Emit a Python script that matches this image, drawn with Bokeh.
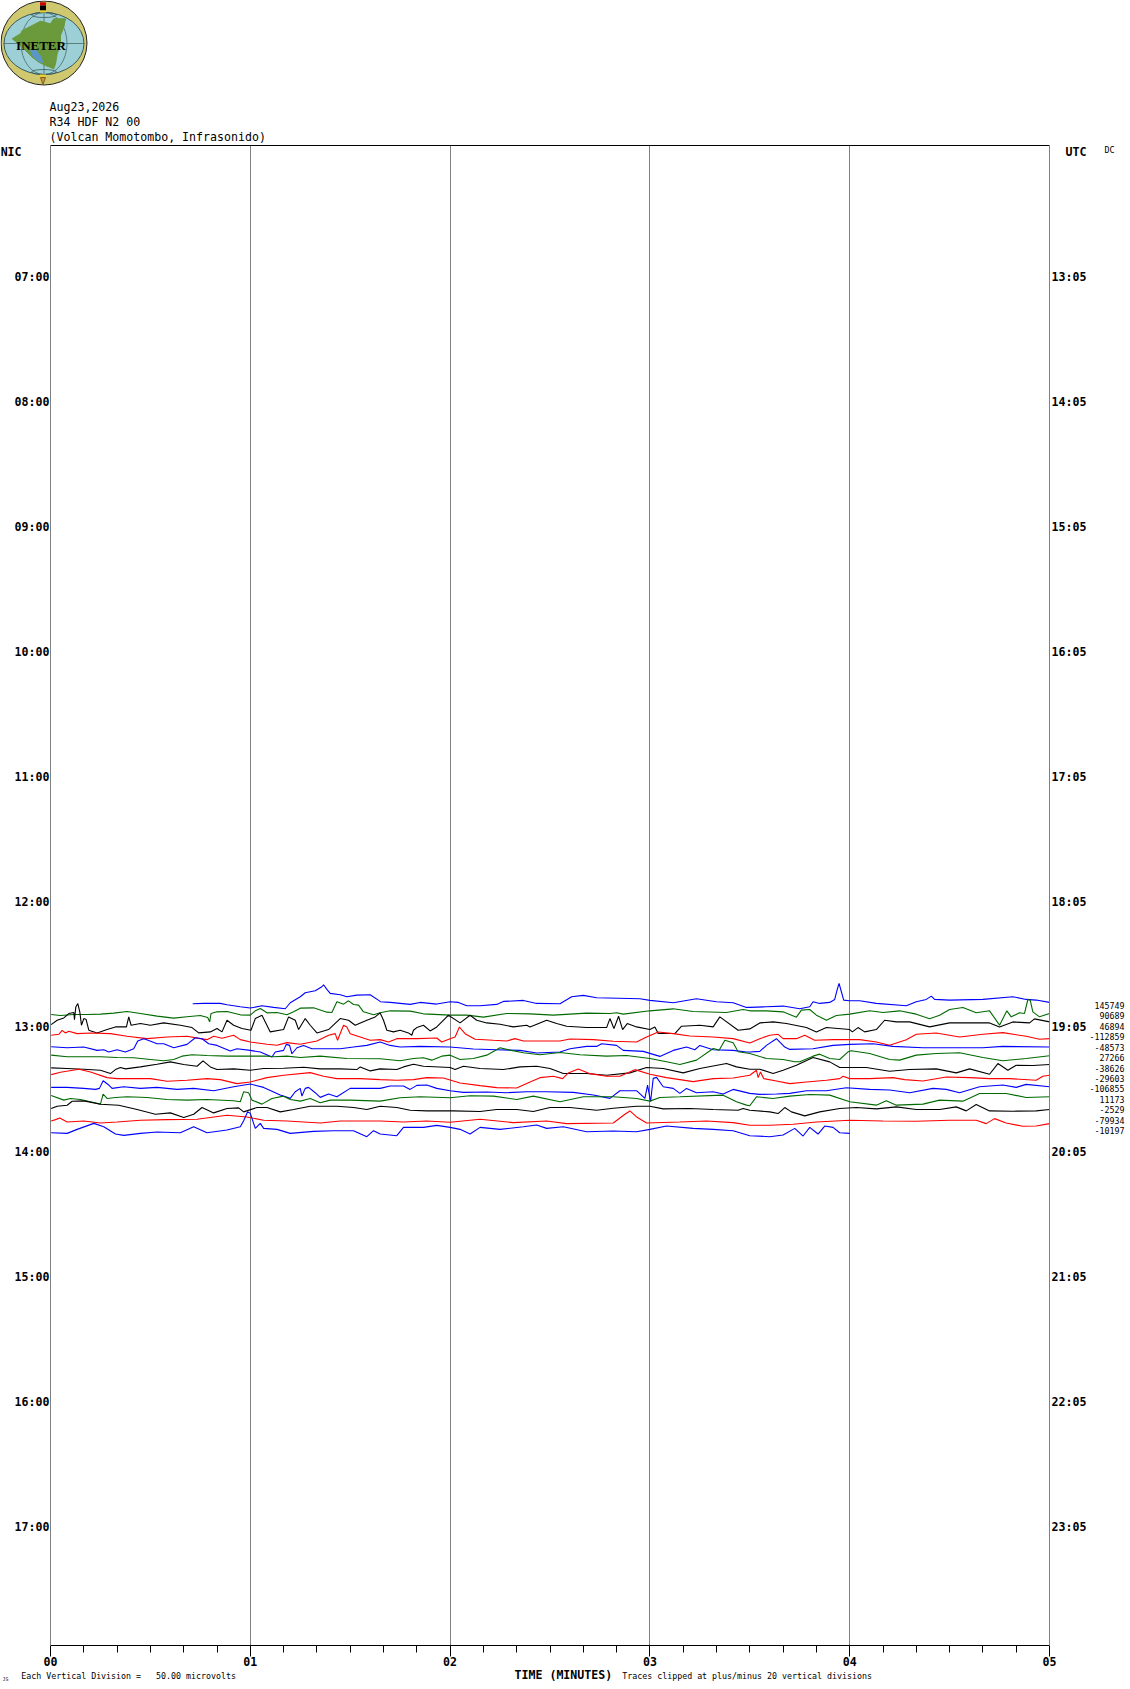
from bokeh.plotting import figure
from bokeh.models import Label, LinearAxis, FixedTicker, Range1d
from bokeh.layouts import column
from bokeh.embed import file_html
from bokeh.resources import INLINE

# Time along the trace in seconds, deflection upward from the trace's baseline (1 count = 1/375 h on the drum)
trace_01_t = [42.7,46,51,53,57,60,63.5,67,70.5,72,75,76.5,79.5,81.5,82,83,84,87,89,92,96,99,
              99,102,105,108,111,116,120,122.5,125,129,134,136,142,146,153,156.5,160,164,177,180,187,194,200,205,209,
              210,215,220,225,228,229,231,234,235.5,236.2,236.8,237.5,238.2,240,243,248,257,260,263,264.5,265.5,270,280,289,293,296,300]
trace_01_d = [7,8,8,4,-2,-6,1,-4,-8,10,28,40,46,58,64,50,38,34,28,33,34,14,
              13,11,8,5,11,6,13,11,1,1,5,14,17,8,7,28,32,25,22,17,10,22,13,10,-4,
              -4,-2,0,-8,-2,13,8,11,20,48,68,43,18,16,16,8,1,13,20,30,20,18,20,28,20,18,11]

trace_02_t = [0.2,3,7,11,15,19,23,27,32,37,41,45,47.2,47.8,48.2,50,53,57,60,61.5,63,65,68,71,73,75,79,83,84.5,86,88,89.5,91,92.5,94,97,99,
              102,108,112,120,125,130,137,144,151,161,168,170,172,180,187,193,203,208,
              210,215,220,224,225.5,228,230,233,236,240,246,250,255,260,264,267,270,274,278,282,285,287.2,288.5,291,292.5,293.5,294.2,295,297,300]
trace_02_d = [6,3,6,6,7,10,15,9,1,-5,-1,3,-3,-16,9,14,15,5,4,17,24,11,12,5,14,25,26,13,12,44,37,47,36,34,14,5,11,
              17,16,8,4,4,-2,9,8,4,10,9,11,7,17,23,15,12,21,
              17,17,14,-2,19,21,4,-11,3,7,17,12,17,7,-7,4,21,27,11,17,-26,17,-1,11,9,51,49,14,-1,9]

trace_03_t = [0.2,2,4,5.5,7,7.2,7.6,8.2,8.8,9.3,10,10.7,11.5,14,17,19.5,22.8,23.5,24.2,27,30,34,39,42.5,44.5,48,50,51.5,53,55,57.5,60.2,61.5,63.5,64.5,66,70,71.5,73.5,74.5,76.5,78,80,83.5,87,89.5,91.5,95,97.5,99,
              100,101,103,105,107.5,108.5,109,110,112,114,116,119.5,123,126,128,131,135,139,143,144,149,152,155,161,167,168,169.2,170.6,171.8,173.2,176,180,181.5,182.5,187.5,189.5,195,199,201,206.5,210,
              213,217,221,227,230,233,240,240.8,242.5,244.5,248,250.5,254,258,264,270,276,282,285,289,294,295.5,300]
trace_03_d = [7,20,27,40,43,22,60,70,45,5,25,22,-10,-18,-8,0,0,30,5,10,5,12,5,-2,-18,-15,-5,-15,20,5,-5,-10,25,35,15,-15,-8,30,20,-8,25,5,-18,-8,25,20,5,20,30,42,
              20,-10,-15,-10,-18,-25,-10,-2,5,-12,0,35,12,35,20,12,8,0,5,0,20,10,2,-2,-2,25,-5,32,-8,10,0,-8,0,-20,-20,2,5,0,30,-10,-6,
              12,15,10,-2,-15,-2,-8,-15,-2,-15,-8,20,15,15,0,12,12,12,0,15,12,24,15]

trace_04_t = [0.2,2.5,3.5,4.5,5.5,8,12,18,23,29,35,41,45,47,49,51.5,55,57,60,65,68,71,75,80,83.5,85.5,86.2,88,89,90,93,96,99,
              101.5,104,110,116,117.5,120,121.5,122.8,124.5,127.5,133,137,139.5,142,147,153,156,163,169,176,179,182.5,187,192,199,205,
              210,213,216,218.5,220,224,226.5,229.5,235,243,248,252,257,260,266,273,280,286,293,297,300]
trace_04_d = [6,9,21,13,18,11,13,11,3,-4,1,3,-4,-7,3,-3,6,-7,-14,-21,-24,-16,-21,-11,6,11,-9,36,31,11,1,-9,-7,
              -14,-4,-4,-2,-14,-4,1,31,11,-6,-9,-11,-4,-11,-11,-11,-5,-7,-12,-14,1,16,11,4,1,-4,
              -17,-4,6,9,-4,-4,6,-9,-7,-7,-14,-24,-7,9,13,1,9,14,3,-6,-4]

trace_05_t = [0.2,5,10,14,16,17.5,20,22.5,25,26.2,28,29.5,32,34,37,41,43.5,45.5,47.5,50,54,56,60,63,66.5,67.5,70,70.8,71.8,72.5,74,76,78.5,83,87,91,95,99,
              102,105,111,120,127,134,141,146,153,156,161,164,165.5,170,172,178,183,187,191,193.5,195,199,205,209,
              210,213,215,218,220.5,222,229,235,240,247,253,262,270,280,286,300]
trace_05_d = [3,0,2,-8,-6,-13,-6,-13,-3,20,27,22,12,12,0,10,30,27,12,7,-10,-3,-8,-13,-28,-13,-8,10,7,-18,0,7,-3,-3,-3,2,7,17,
              7,2,4,2,-4,-6,-8,-16,-13,-3,4,4,12,7,-8,-11,-26,-8,2,-6,7,-6,-8,-13,
              -13,-11,7,27,2,-5,-3,7,10,12,4,0,0,0,4,2]

trace_06_t = [0.2,5,10,15,20,25,30,34,37,39.5,42.5,47,53,60,65,67,71,75,81,89,99,
              105,109,112,114.5,117.5,120,123,127,131,135,138,142,147,153,159,167,173,180,185,189,194,199,200.8,202.5,205,206.5,210,
              215,220,223.5,225,229,231,234,237,239.5,240.5,246,252,255,260,266,273,280,286,293,300]
trace_06_d = [9,4,4,4,2,1,-4,-8,-4,6,10,8,6,6,6,4,6,2,6,-1,-2,
              -8,-1,1,-6,6,9,-4,-1,9,31,24,16,10,17,10,6,8,-1,-11,-19,-6,29,24,54,46,19,14,
              -1,-4,-11,-11,6,12,-1,-4,19,22,14,-4,-6,9,14,16,2,-8,-1,7]

trace_07_t = [0.2,5,10,15,18,19.5,21,22.5,27,32,36,40,44,45.8,48,50,55,60,64,70,76,81,87,92,93,96,99,
              104,106,109,112,120,121.5,124,129,136,141,146,150,154,161,167,174,179,184,190,195,203,206,
              210,213,217,220,224,229,234,237,245,252,258,266,272,276,282,284.5,287.5,290,295,300]
trace_07_d = [2,0,-2,-5,-15,-3,3,-1,5,13,20,12,7,23,5,-3,-1,-5,0,1,4,-1,-1,-3,5,-7,-1,
              -3,5,13,7,3,-3,7,0,-3,5,7,0,-15,-15,-20,-13,3,0,-13,0,15,5,
              -2,-2,-15,-5,10,33,20,3,3,-8,-3,-1,-13,-1,-17,15,-5,10,9,12]

trace_08_t = [0.2,3,8.5,12,17,20,25,30,35,41,47,51,56,60,65,70,78,82,86,93,99,
              104,109,113,118,123,129,134,140,144,147,151,153.8,155.5,158.5,162,167,171,175.5,180,185,193,199,205,
              210,212,212.5,213.2,214.2,218,222,227,233,237,238,240,246,253,256.5,262,269,276,282,288,296,298,300]
trace_08_d = [13,20,29,21,4,1,1,1,-7,-4,1,-2,-14,-9,4,11,19,8,1,1,-2,
              -4,-2,4,3,-12,-20,-26,-27,-9,4,8,1,18,30,16,8,8,28,14,4,-8,1,3,
              11,26,4,21,1,-6,-14,-9,-4,1,8,1,1,4,-2,-6,6,4,1,1,-4,8,11]

trace_09_t = [0.2,5,10,13.5,14.7,15.8,17.5,18.5,22,27,32,38,43,49,55,60,64,69,72,73.5,75,75.5,76.5,77.5,79.5,81,83.5,86,90,94,99,
              102,106,108,110,113,116,120,124,131,137,143,149,157,163,168,171,176,178.5,179.3,180.2,181,182,184,187,189,191,194,199,202,205,
              210,213,218,222,227,233,239,246,252,258,265,269,273,279,286,290,293,300]
trace_09_d = [6,6,3,0,3,26,13,3,8,3,6,0,3,-4,8,16,6,-17,-27,-7,3,-20,3,6,-10,-24,-14,-22,3,3,3,
              10,10,0,12,13,3,-4,-9,-8,-10,-7,-7,-9,-17,-27,-4,-4,-27,13,-37,33,36,8,3,-12,3,-10,-7,-14,0,
              -12,-15,-14,-12,-4,-4,5,0,-2,-10,3,0,-10,8,13,6,15,8]

trace_10_t = [0.2,4,6,9,12,15,15.8,17,19.5,23,29,35,41,47,55,57,58,59.5,60.5,63.5,66.5,70,72,75,78,81,84,90,99,
              105,111,120,126,133,140,145,153,160,169,176,180,183,189,202,206,209,
              210,212,217,222,228,234,240,248,251,254,262,267,274,279,287,293,300]
trace_10_d = [13,-1,4,1,-6,-13,17,4,7,9,7,1,-1,1,-3,-6,24,21,-1,-13,4,11,1,-4,4,-9,-1,-1,-4,
              6,9,6,12,11,1,11,-6,9,9,4,-4,7,9,14,-6,-16,
              -18,9,4,11,16,14,-6,-16,-3,-16,-13,-1,-4,19,19,7,9]

trace_11_t = [0.2,2,5,6.5,10,15,20.5,26,31.5,36,40,43,45.5,49,53,56.5,58,62,65,69,73,78,86,91,95,99,
              104,108,113,121,129,134,140,145,150,156,164,169,176,180,184,192,199,206.5,208,
              210,216,218.5,220.5,222.5,226.5,231,237,242,248,254,260,267,272,275,278,282,289,296,300]
trace_11_d = [5,12,15,27,28,18,15,2,-12,-8,-22,-12,8,-8,5,7,-5,8,8,-5,2,12,12,8,2,12,
              8,0,-2,-2,-4,2,2,-4,8,8,0,6,12,12,4,5,2,0,5,
              0,-5,-10,8,-5,-17,-5,5,8,4,10,2,2,10,-2,17,-2,-3,-2,2]

trace_12_t = [0.2,1.5,2.8,5,10,15,20,27,35,44,53,59,64,71,81,87,99,
              106,113,120,129,139,149,155,169,172.5,174,176,179,189,197,205,
              210,216,223,230,240,250,260,270,278,281,283.5,287,292,296,300]
trace_12_d = [-1,3,8,-4,-1,-7,-4,1,3,4,16,11,1,-1,-7,-1,-1,
              -4,-1,-5,4,-6,-1,-9,-7,19,29,11,-7,-4,-1,-6,
              -14,-14,-11,-4,1,-1,-2,1,1,-9,6,-7,-17,-16,-9]

trace_13_t = [0.2,5,8,13,16,19.5,22,27,32,39,43,47,53,57,58,59.2,60,61.5,63,64,68,72,79,85,91,95,97,99,
              104,106,112,116,120,123,126,129,135,142,146,149,154,161,169,176,180,185,193,199,205,
              210,216,220,223.5,226,228,230.5,232.5,235,237,240]
trace_13_d = [-5,-7,5,23,13,-9,-13,-7,-3,-5,13,-5,3,13,31,58,53,8,23,8,5,-7,-1,1,1,-17,1,-9,
              -14,11,11,17,11,5,-9,11,5,13,18,8,13,-2,0,-2,5,15,8,5,1,
              -14,-17,-12,8,-15,11,-9,15,11,-5,-7]

trace_offsets = [145749,90689,46894,-112859,-48573,27266,-38626,-29603,-106855,11173,-2529,-79934,-10197]
nic_hours = [6,7,8,9,10,11,12,13,14,15,16,17]
nic_labels = ["NIC    ","07:00","08:00","09:00","10:00","11:00","12:00","13:00","14:00","15:00","16:00","17:00"]
utc_labels = ["  UTC","13:05","14:05","15:05","16:05","17:05","18:05","19:05","20:05","21:05","22:05","23:05"]
minute_labels = ["00","01","02","03","04","05"]

traces = [
    (trace_01_t, trace_01_d), (trace_02_t, trace_02_d), (trace_03_t, trace_03_d), (trace_04_t, trace_04_d),
    (trace_05_t, trace_05_d), (trace_06_t, trace_06_d), (trace_07_t, trace_07_d), (trace_08_t, trace_08_d),
    (trace_09_t, trace_09_d), (trace_10_t, trace_10_d), (trace_11_t, trace_11_d), (trace_12_t, trace_12_d),
    (trace_13_t, trace_13_d),
]
for i, (tt, dd) in enumerate(traces):
    assert len(tt) == len(dd), (i + 1, len(tt), len(dd))

BLUE, GREEN, BLACK, RED, GRAY = "#0000ff", "#006a00", "#000000", "#ff0000", "#808080"
row_colors = [BLUE, GREEN, BLACK, RED]
MONO = "DejaVu Sans Mono"
NB = "\u00a0"

HEAD_H, FOOT_H = 144, 21
HEIGHT = 1689
LEFT_EXTRA = 3

def strip(h):
    f = figure(width=1130, height=h, x_range=Range1d(0, 1130), y_range=Range1d(h, 0),
               output_backend="svg", toolbar_location=None, min_border=0, outline_line_color=None,
               frame_align=False)
    f.axis.visible = False
    f.grid.visible = False
    return f

def put(f, px, py, text, size="11.6px", bold=False):
    f.add_layout(Label(x=px, y=py, text=text, text_align="left", text_baseline="middle",
                       text_font=MONO, text_font_style="bold" if bold else "normal",
                       text_font_size=size, text_color="#000000"))

# ---------- header: logo and station text ----------
head = strip(HEAD_H)
head.ellipse([43.5], [42.5], width=[86], height=[84], fill_color="#cfc86e", line_color="#222222", line_width=1)
head.ellipse([43.5], [43], width=[80], height=[62], fill_color="#9ccfd6", line_color="#3a5a5a", line_width=1)
head.ellipse([43.5], [43], width=[46], height=[62], fill_color=None, line_color="#4a6a6a", line_width=0.8)
head.ellipse([43.5], [14.5], width=[25], height=[5], fill_color=None, line_color="#3a5a5a", line_width=0.8)
head.ellipse([43.5], [71.5], width=[25], height=[5], fill_color=None, line_color="#3a5a5a", line_width=0.8)
head.line([3, 84], [43, 43], line_color="#4a6a6a", line_width=0.8)
head.line([43.5, 43.5], [12, 74], line_color="#4a6a6a", line_width=0.8)
head.patch([11.7,20,21.7,31.7,40,50,53.3,65,63.3,60,60,56.7,55,53.3,45,38.3,31.7,25,18.3],
           [38.3,33.3,30,25,20.7,23.3,18.3,18.3,26.7,35,43.3,53.3,63.3,68.3,65,61.7,56.7,50,43.3],
           fill_color="#6a9a3c", line_color="#6a9a3c")
head.patch([30,35,41,42,37,32], [50,49,57,62,60,55], fill_color="#5b96c8", line_color="#5b96c8")
head.quad(left=[39.5], right=[45.5], top=[1.7], bottom=[5], fill_color="#d00000", line_color=None)
head.quad(left=[39.5], right=[45.5], top=[5], bottom=[10], fill_color="#000000", line_color=None)
head.quad(left=[39.5], right=[45.5], top=[10], bottom=[12], fill_color="#e8d030", line_color=None)
head.quad(left=[39.5], right=[45.5], top=[74], bottom=[77], fill_color="#e8d030", line_color=None)
head.patch([40, 45, 42.5], [77, 77, 84], fill_color="#d09040", line_color="#806020")
head.add_layout(Label(x=40.5, y=44.5, text="INETER", text_align="center", text_baseline="middle",
                      text_font="Liberation Serif", text_font_style="bold", text_font_size="13px",
                      text_color="#000000"))
put(head, 49, 106, "Aug23,2026")
put(head, 49, 121, "R34 HDF N2 00")
put(head, 49, 136, "(Volcan Momotombo, Infrasonido)")

# ---------- drum ----------
PX_T, PX_B = 145, 1645.5
y0 = 13 + (PX_T - 1026.7) / 125
y1 = 13 + (PX_B - 1026.7) / 125

p = figure(width=1130 + LEFT_EXTRA, height=HEIGHT - HEAD_H - FOOT_H, x_range=Range1d(0, 5), y_range=Range1d(y1, y0),
           output_backend="svg", toolbar_location=None, outline_line_color=None,
           min_border_left=50, min_border_right=70, min_border_top=1, min_border_bottom=22,
           frame_align=False, margin=(0, 0, 0, -LEFT_EXTRA))
p.ygrid.visible = False
p.xgrid.ticker = FixedTicker(ticks=[0, 1, 2, 3, 4, 5])
p.xgrid.grid_line_color = GRAY
p.xgrid.grid_line_width = 1

xa = p.xaxis[0]
xa.ticker = FixedTicker(ticks=[0, 1, 2, 3, 4, 5], minor_ticks=[k / 6 for k in range(31) if k % 6])
xa.major_label_overrides = {i: s for i, s in enumerate(minute_labels)}
xa.major_tick_in = 0
xa.minor_tick_in = 0
xa.major_tick_out = 11
xa.minor_tick_out = 7
xa.major_label_standoff = 0
xa.axis_line_color = "#000000"
xa.major_tick_line_color = "#000000"
xa.minor_tick_line_color = "#000000"
xa.major_label_text_font = MONO
xa.major_label_text_font_style = "bold"
xa.major_label_text_font_size = "11.6px"
xa.major_label_text_color = "#000000"

def style_y(ax, ticks, labels, standoff, size, bold, line):
    ax.ticker = FixedTicker(ticks=ticks, minor_ticks=[])
    ax.major_label_overrides = labels
    ax.major_tick_line_color = None
    ax.minor_tick_line_color = None
    ax.major_tick_in = 0
    ax.major_tick_out = 0
    ax.axis_line_color = line
    ax.major_label_standoff = standoff
    ax.major_label_text_font = MONO
    ax.major_label_text_font_style = "bold" if bold else "normal"
    ax.major_label_text_font_size = size
    ax.major_label_text_color = "#000000"

style_y(p.yaxis[0], nic_hours, {h: s.replace(" ", NB) for h, s in zip(nic_hours, nic_labels)}, 1, "11.6px", True, GRAY)

right = LinearAxis()
style_y(right, nic_hours, {h: s.replace(" ", NB) for h, s in zip(nic_hours, utc_labels)}, 2, "11.6px", True, GRAY)
p.add_layout(right, "right")

row_hours = [13 + (k - 2) / 12 for k in range(len(trace_offsets))]
dc_hour = 5.976
offset_labels = {h: str(v).rjust(7, NB) for h, v in zip(row_hours, trace_offsets)}
offset_labels[dc_hour] = NB * 3 + "DC"
right2 = LinearAxis()
style_y(right2, row_hours + [dc_hour], offset_labels, 0, "8.3px", False, None)
p.add_layout(right2, "right")

top = LinearAxis(ticker=FixedTicker(ticks=[]), axis_line_color="#000000",
                 major_tick_line_color=None, minor_tick_line_color=None,
                 major_tick_out=0, major_tick_in=0, major_label_standoff=0,
                 major_label_text_font_size="0px")
p.add_layout(top, "above")

for k, (tt, dd) in enumerate(traces):
    p.line([t / 60 for t in tt], [row_hours[k] - d / 375 for d in dd], line_color=row_colors[k % 4], line_width=1.1)

# ---------- footer ----------
foot = strip(FOOT_H)
put(foot, 2, 10, "JS", size="5px")
put(foot, 20.7, 7, "Each Vertical Division =   50.00 microvolts".replace(" ", NB), size="8.3px")
put(foot, 514, 6, "TIME (MINUTES)", bold=True)
put(foot, 621.7, 7, "Traces clipped at plus/minus 20 vertical divisions", size="8.3px")

page = column(head, p, foot, spacing=0, margin=0)
open("out.html", "w").write(file_html(page, INLINE))
